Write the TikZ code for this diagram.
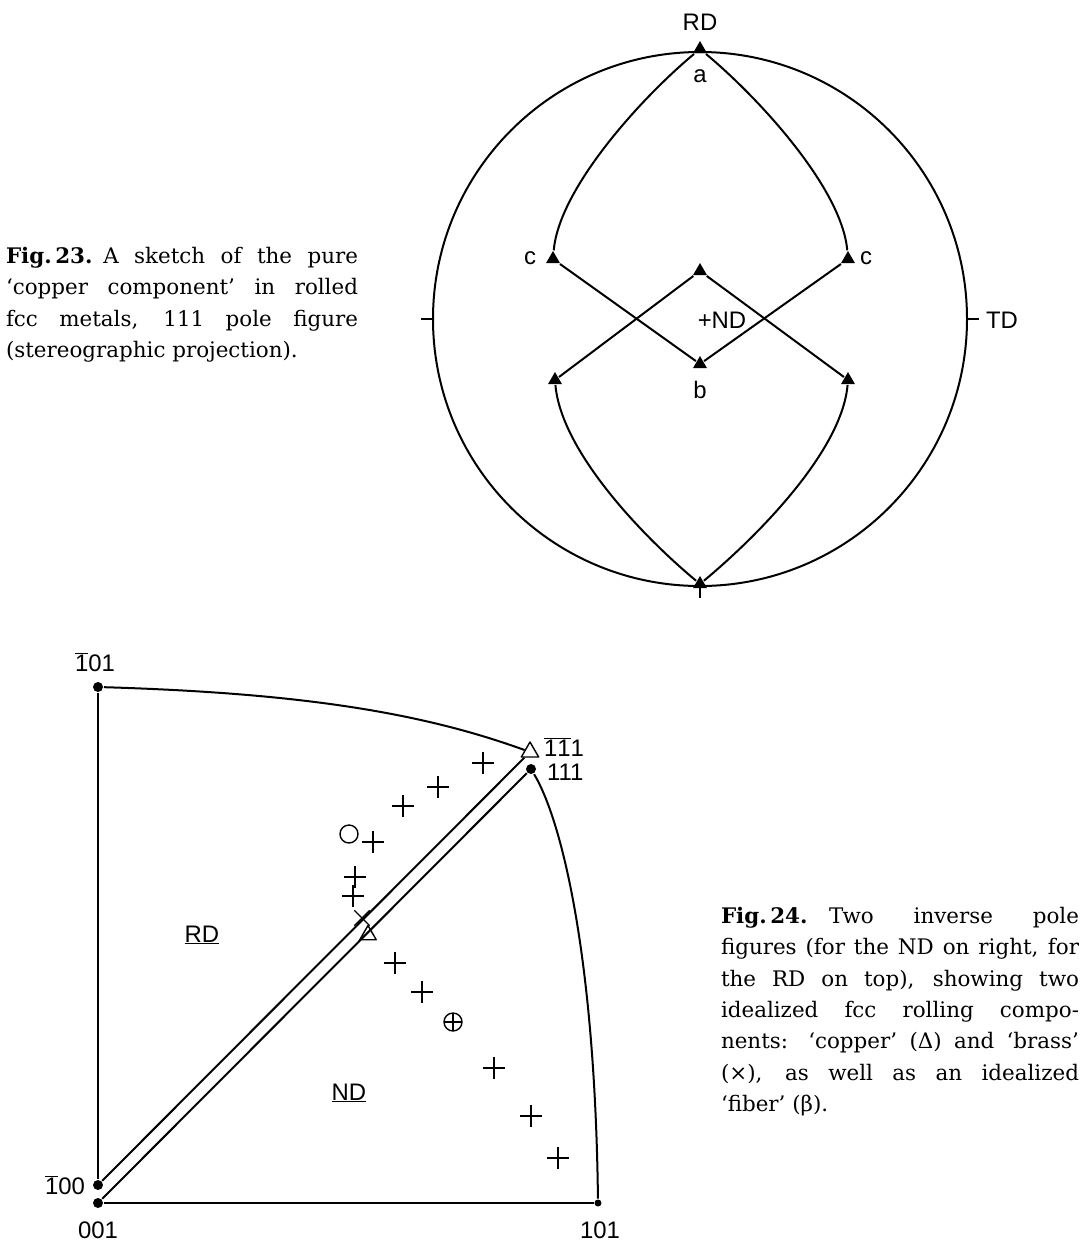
\documentclass[tikz,border=0pt]{standalone}
\usepackage{fontspec}
\setmainfont{DejaVu Serif}
\setsansfont{Liberation Sans}
\usetikzlibrary{shapes.geometric,shapes.misc}
\newcommand{\ibar}[1]{$\overline{\mbox{#1}}$}
\tikzset{%
pole/.style={regular polygon,regular polygon sides=3,fill,inner sep=0pt,minimum size=16bp},
copper/.style={regular polygon,regular polygon sides=3,draw,line width=1.4bp,inner sep=0pt,minimum size=20bp},
corner/.style={circle,fill,inner sep=0pt,minimum size=10bp},
fib/.style={cross out,draw,rotate=45,line width=1.4bp,inner sep=0pt,minimum size=14bp},
brass/.style={cross out,draw,line width=1.4bp,inner sep=0pt,minimum size=14bp},
ring/.style={circle,draw,line width=1.4bp,inner sep=0pt,minimum size=18bp},
lab/.style={font=\sffamily\fontsize{24}{28}\selectfont,inner sep=0pt},
caption/.style={font=\fontsize{21.5}{31.5}\selectfont,align=justify,inner sep=0pt,anchor=north west},
}

\begin{document}
\begin{tikzpicture}[x=1bp,y=-1bp,line width=2bp,
                    every path/.append style={line join=round}]
\useasboundingbox (0,0) rectangle (1083,1251);

% Fig. 23: 111 pole figure
\node[circle,draw,inner sep=0pt,minimum size=534bp] (pf) at (700,319) {};
\coordinate (tickW) at (421,319);
\coordinate (tickE) at (979,319);
\coordinate (tickS) at (700,598);
\draw (pf.west) -- (tickW);
\draw (pf.east) -- (tickE);
\draw (pf.south) -- (tickS);

\node[pole] (a)   at (700,49)  {};
\node[pole] (cL)  at (553,259) {};
\node[pole] (cR)  at (848,259) {};
\node[pole] (mid) at (700,271) {};
\node[pole] (b)   at (700,364) {};
\node[pole] (lL)  at (555,380) {};
\node[pole] (lR)  at (848,380) {};
\node[pole] (bot) at (700,584) {};

\draw (a) .. controls +(-60,50) and +(6,-70) .. (cL);
\draw (a) .. controls +(60,50) and +(-6,-70) .. (cR);
\draw (cL) -- (b);
\draw (cR) -- (b);
\draw (mid) -- (lL);
\draw (mid) -- (lR);
\draw (lL) .. controls +(6,70) and +(-60,-50) .. (bot);
\draw (lR) .. controls +(-6,70) and +(60,-50) .. (bot);

\node[lab] (rd)  at (700,22)  {RD};
\node[lab] (la)  at (700,76)  {a};
\node[lab] (lcL) at (530,258) {c};
\node[lab] (lcR) at (866,258) {c};
\node[lab] (nd)  at (722,320) {+ND};
\node[lab] (lb)  at (700,390) {b};
\node[lab,anchor=west] (td) at (985,320) {TD};

\node[caption,text width=352bp] (cap23) at (5,246)
  {\textbf{Fig.\,23.}\enspace A sketch of the pure\linebreak
   `copper component' in rolled\linebreak
   fcc metals, 111 pole figure\linebreak
   (stereographic projection).};

% Fig. 24: inverse pole figures
\node[corner] (p101b) at (98,687)   {};
\node[corner] (p100b) at (98,1185)  {};
\node[corner] (p001)  at (98,1203)  {};
\node[corner,minimum size=7bp] (p101) at (598,1203) {};
\node[corner] (p111)  at (531,769)  {};
\node[copper] (t111b) at (530,752)  {};

\draw (p101b) .. controls +(200,6) and +(-110,-40) .. (t111b);
\draw (p111) .. controls +(30,50) and +(-3,-250) .. (p101);
\draw (p101b) -- (p100b);
\draw (p001) -- (p101);
\draw (p100b) -- (t111b);
\draw (p001) -- (p111);

\node[lab] (l101b) at (95,662)  {\ibar{1}01};
\node[lab,anchor=east] (l100b) at (86,1185) {\ibar{1}00};
\node[lab] (l001) at (98,1230)  {001};
\node[lab] (l101) at (600,1230) {101};
\node[lab,anchor=west] (l111b) at (543,747) {\ibar{1}\ibar{1}1};
\node[lab,anchor=west] (l111)  at (546,772) {111};
\node[lab] (rdl) at (202,935)  {\underline{RD}};
\node[lab] (ndl) at (349,1093) {\underline{ND}};

\node[fib] (f1)  at (483,763)  {};
\node[fib] (f2)  at (438,787)  {};
\node[fib] (f3)  at (403,806)  {};
\node[fib] (f4)  at (373,842)  {};
\node[fib] (f5)  at (355,877)  {};
\node[fib] (f6)  at (353,896)  {};
\node[fib] (f7)  at (395,963)  {};
\node[fib] (f8)  at (422,992)  {};
\node[fib] (f9)  at (494,1068) {};
\node[fib] (f10) at (531,1116) {};
\node[fib] (f11) at (558,1158) {};
\node[ring] (goss) at (349,834) {};
\node[brass] (br) at (362,918) {};
\node[copper,minimum size=19bp] (cu) at (368,935) {};
\node[ring] (s) at (453,1022) {};
\node[fib,minimum size=12bp] (sx) at (s) {};

\node[caption,text width=358bp] (cap24) at (720,906)
  {\textbf{Fig.\,24.}\quad Two inverse pole\linebreak
   figures (for the ND on right, for\linebreak
   the RD on top), showing two\linebreak
   idealized fcc rolling compo-\linebreak
   nents: `copper' (Δ) and `brass'\linebreak
   (×), as well as an idealized\linebreak
   `fiber' (β).};
\end{tikzpicture}
\end{document}
